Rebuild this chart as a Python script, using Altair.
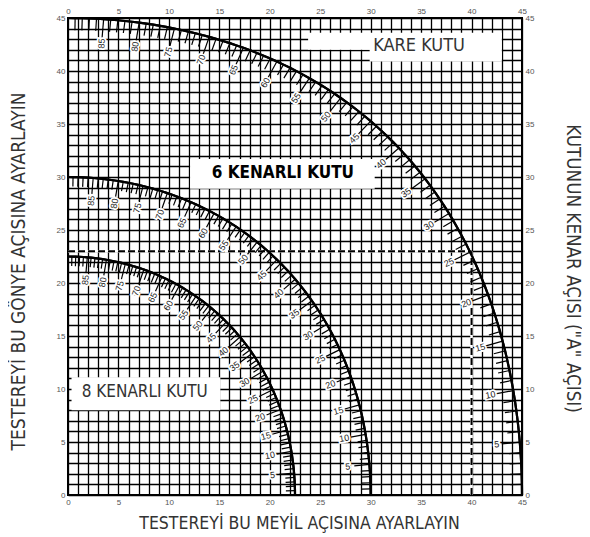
import altair as alt
import pandas as pd

# ---- chart values -------------------------------------------------------
box_sides = [4, 6, 8]                                   # square, hexagon, octagon
box_names = ["KARE KUTU", "6 KENARLI KUTU", "8 KENARLI KUTU"]
edge_angles = list(range(0, 91))                        # 1° graduations of angle A
label_angles = list(range(5, 90, 5))                    # labelled graduations
axis_values = list(range(0, 46))                        # grid every 1°
example_bevel = [40]                                    # dashed example reading
example_miter = [23]

# ---- layout / style constants -------------------------------------------
minor_len = {4: 1.15, 6: 0.9, 8: 0.9}
major_len = {4: 1.8, 6: 1.5, 8: 1.5}
label_dist = {4: 2.3, 6: 2.15, 8: 2.15}
box_rects = pd.DataFrame({
    "x": [23.8, 29.9, 12.1, 0.35], "x2": [30.0, 43.0, 30.4, 15.1],
    "y": [42.0, 40.9, 28.9, 8.0], "y2": [43.6, 43.6, 31.7, 11.1]})
box_text_pos = {"KARE KUTU": (34.8, 42.4), "6 KENARLI KUTU": (21.3, 30.35),
                "8 KENARLI KUTU": (7.6, 9.75)}
box_text_size = {"KARE KUTU": 18, "6 KENARLI KUTU": 17, "8 KENARLI KUTU": 17}

TITLE_FONT = "'Liberation Sans Narrow', 'DejaVu Sans Condensed', 'Open Sans', sans-serif"
LABEL_FONT = "'Liberation Sans', Arial, sans-serif"

rows = []
for n in box_sides:
    for a in edge_angles:
        rows.append({"n": n, "A": a, "minor": minor_len[n], "major": major_len[n],
                     "dist": label_dist[n], "lab": a in label_angles})
df = pd.DataFrame(rows)

X = alt.Scale(domain=[0, 45], nice=False, zero=False)
Y = alt.Scale(domain=[0, 45], nice=False, zero=False)

base = alt.Chart(df).transform_calculate(
    rad="datum.A * PI / 180",
    B="asin(cos(datum.A*PI/180) * sin(PI/datum.n)) * 180 / PI",
    M="atan(sin(datum.A*PI/180) * tan(PI/datum.n)) * 180 / PI",
).transform_calculate(
    L="datum.A % 5 == 0 ? datum.major : datum.minor",
).transform_calculate(
    tx="datum.B - datum.L * cos(datum.rad)",
    ty="datum.M - datum.L * sin(datum.rad)",
    lx="datum.B - datum.dist * cos(datum.rad)",
    ly="datum.M - datum.dist * sin(datum.rad)",
    lang="360 - datum.A",
    txt="'' + datum.A",
)

label_expr = "datum.value % 5 == 0 ? datum.label : ''"
common_axis = dict(values=axis_values, labelExpr=label_expr, ticks=False, domain=False,
                   labelFont=LABEL_FONT, labelFontSize=8, labelColor="#555",
                   labelPadding=3, labelFlush=False, labelOverlap=False)

x_bottom = alt.Axis(orient="bottom", grid=True, gridColor="black", gridWidth=1.3,
                    gridOpacity=1, title="TESTEREYİ BU MEYİL AÇISINA AYARLAYIN",
                    titleFont=TITLE_FONT, titleFontSize=17.5, titleFontWeight=300,
                    titleColor="#333", titleX=231, titleY=28, titleAlign="center",
                    titleBaseline="middle", **common_axis)
y_left = alt.Axis(orient="left", grid=True, gridColor="black", gridWidth=1.3,
                  gridOpacity=1, title="TESTEREYİ BU GÖNYE AÇISINA AYARLAYIN",
                  titleFont=TITLE_FONT, titleFontSize=19, titleFontWeight=300,
                  titleColor="#333", titleX=-50, titleY=253, titleAngle=270,
                  titleAlign="center", titleBaseline="middle", **common_axis)
x_top = alt.Axis(orient="top", grid=False, title=None, **common_axis)
y_right = alt.Axis(orient="right", grid=False, title='KUTUNUN KENAR AÇISI ("A" AÇISI)',
                   titleFont=TITLE_FONT, titleFontSize=18.7, titleFontWeight=300,
                   titleColor="#333", titleX=50, titleY=250, titleAngle=90,
                   titleAlign="center", titleBaseline="middle", **common_axis)

# curves (carry bottom/left axes)
curves = base.mark_line(color="black", strokeWidth=2.2).encode(
    x=alt.X("B:Q", scale=X, axis=x_bottom),
    y=alt.Y("M:Q", scale=Y, axis=y_left),
    detail="n:N", order="A:Q")

# invisible layer carrying top/right axes
top_right = base.mark_point(opacity=0).encode(
    x=alt.X("B:Q", scale=X, axis=x_top),
    y=alt.Y("M:Q", scale=Y, axis=y_right))

boxes = alt.Chart(box_rects).mark_rect(fill="white").encode(
    x=alt.X("x:Q", scale=X, axis=None), x2="x2:Q",
    y=alt.Y("y:Q", scale=Y, axis=None), y2="y2:Q")

ex = pd.DataFrame({"bevel": example_bevel, "miter": example_miter, "zero": [0]})
hz_white = alt.Chart(ex).mark_rule(color="white", strokeWidth=2.6).encode(
    x=alt.X("zero:Q", scale=X, axis=None), x2="bevel:Q",
    y=alt.Y("miter:Q", scale=Y, axis=None))
vt_white = alt.Chart(ex).mark_rule(color="white", strokeWidth=2.6).encode(
    x=alt.X("bevel:Q", scale=X, axis=None),
    y=alt.Y("zero:Q", scale=Y, axis=None), y2="miter:Q")
hz = alt.Chart(ex).mark_rule(color="black", strokeWidth=2, strokeDash=[7, 3]).encode(
    x=alt.X("zero:Q", scale=X, axis=None), x2="bevel:Q",
    y=alt.Y("miter:Q", scale=Y, axis=None))
vt = alt.Chart(ex).mark_rule(color="black", strokeWidth=2, strokeDash=[7, 3]).encode(
    x=alt.X("bevel:Q", scale=X, axis=None),
    y=alt.Y("zero:Q", scale=Y, axis=None), y2="miter:Q")

ticks = base.mark_rule(color="black", strokeWidth=1.2).encode(
    x=alt.X("B:Q", scale=X, axis=None), x2="tx:Q",
    y=alt.Y("M:Q", scale=Y, axis=None), y2="ty:Q")

lab_base = base.transform_filter("datum.lab")
halo = lab_base.mark_text(font=LABEL_FONT, fontSize=9, stroke="white", strokeWidth=3.5,
                          color="white", align="center", baseline="middle").encode(
    x=alt.X("lx:Q", scale=X, axis=None), y=alt.Y("ly:Q", scale=Y, axis=None),
    text="txt:N", angle=alt.Angle("lang:Q", scale=None))
labels = lab_base.mark_text(font=LABEL_FONT, fontSize=9, color="#222",
                            align="center", baseline="middle").encode(
    x=alt.X("lx:Q", scale=X, axis=None), y=alt.Y("ly:Q", scale=Y, axis=None),
    text="txt:N", angle=alt.Angle("lang:Q", scale=None))

bt = pd.DataFrame({"name": box_names,
                   "x": [box_text_pos[b][0] for b in box_names],
                   "y": [box_text_pos[b][1] for b in box_names],
                   "size": [box_text_size[b] for b in box_names],
                   "bold": [False, True, False]})
box_text_light = alt.Chart(bt).transform_filter("!datum.bold").mark_text(
    font=TITLE_FONT, fontWeight=300, color="#333",
    align="center", baseline="middle").encode(
    x=alt.X("x:Q", scale=X, axis=None), y=alt.Y("y:Q", scale=Y, axis=None),
    text="name:N", size=alt.Size("size:Q", scale=None))
box_text_bold = alt.Chart(bt).transform_filter("datum.bold").mark_text(
    font=TITLE_FONT, fontWeight="bold", color="black",
    align="center", baseline="middle").encode(
    x=alt.X("x:Q", scale=X, axis=None), y=alt.Y("y:Q", scale=Y, axis=None),
    text="name:N", size=alt.Size("size:Q", scale=None))

chart = alt.layer(
    curves, top_right, boxes, hz_white, vt_white, hz, vt, ticks, curves.encode(
        x=alt.X("B:Q", scale=X, axis=None), y=alt.Y("M:Q", scale=Y, axis=None)),
    halo, labels, box_text_light, box_text_bold
).resolve_axis(x="independent", y="independent").properties(
    width=454, height=477,
    autosize=alt.AutoSizeParams(type="none"),
    padding={"left": 60, "top": 10, "right": 60, "bottom": 40},
).configure_view(stroke="black", strokeWidth=2)

chart.save("out.html", embed_options={"renderer": "svg", "actions": False})
